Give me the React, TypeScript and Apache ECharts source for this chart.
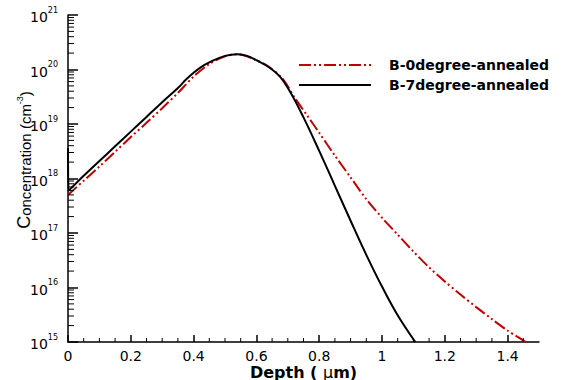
import React, { useEffect, useRef } from 'react';
import * as echarts from 'echarts';

// B-0degree-annealed (red, dash-dot-dot)
const depth0 = [0, 0.05, 0.1, 0.15, 0.2, 0.25, 0.3, 0.35, 0.4, 0.45, 0.5, 0.54, 0.6, 0.64, 0.685, 0.72, 0.76, 0.8, 0.85, 0.9, 0.95, 1.0, 1.05, 1.1, 1.15, 1.2, 1.25, 1.3, 1.35, 1.4, 1.458];
const conc0 = [5.0e17, 9.1e17, 1.66e18, 3.09e18, 5.75e18, 1.05e19, 1.95e19, 3.72e19, 7.41e19, 1.26e20, 1.74e20, 1.91e20, 1.48e20, 1.12e20, 6.61e19, 3.16e19, 1.48e19, 6.9e18, 2.63e18, 1.05e18, 4.17e17, 1.91e17, 9.33e16, 4.57e16, 2.34e16, 1.29e16, 7.41e15, 4.37e15, 2.63e15, 1.62e15, 1.0e15];

// B-7degree-annealed (black, solid)
const depth7 = [0, 0.002, 0.05, 0.1, 0.15, 0.2, 0.25, 0.3, 0.35, 0.375, 0.4, 0.425, 0.45, 0.5, 0.54, 0.57, 0.6, 0.64, 0.675, 0.71, 0.75, 0.8, 0.85, 0.9, 0.95, 1.0, 1.05, 1.106];
const conc7 = [3.63e18, 6.0e17, 1.12e18, 2.09e18, 3.89e18, 7.24e18, 1.35e19, 2.51e19, 4.57e19, 6.46e19, 8.7e19, 1.12e20, 1.35e20, 1.78e20, 1.91e20, 1.78e20, 1.48e20, 1.1e20, 7.41e19, 3.66e19, 1.32e19, 3.21e18, 7.35e17, 1.68e17, 3.98e16, 1.04e16, 3.09e15, 1.0e15];

const xTickValues = [0, 0.2, 0.4, 0.6, 0.8, 1, 1.2, 1.4];
const xMinorTickValues = [0.05, 0.1, 0.15, 0.25, 0.3, 0.35, 0.45, 0.5, 0.55, 0.65, 0.7, 0.75, 0.85, 0.9, 0.95, 1.05, 1.1, 1.15, 1.25, 1.3, 1.35, 1.45];
const yDecadeExponents = [15, 16, 17, 18, 19, 20];
const yMinorMultipliers = [2, 3, 4, 5, 6, 7, 8, 9];

const seriesNames = ['B-0degree-annealed', 'B-7degree-annealed'];

const WIDE = '"DejaVu Sans", Verdana, sans-serif';
const ARIAL = '"Liberation Sans", Arial, sans-serif';

export default function App() {
  const ref = useRef<HTMLDivElement>(null);
  useEffect(() => {
    if (!ref.current) return;
    const chart = echarts.init(ref.current, null, { renderer: 'svg' });

    const yMinor: number[][] = [];
    yDecadeExponents.forEach((e) => {
      yMinorMultipliers.forEach((m) => yMinor.push([0, m * Math.pow(10, e)]));
    });
    const xMinor = xMinorTickValues.map((v) => [v, 1e15]);

    const option: any = {
      animation: false,
      backgroundColor: '#fff',
      grid: { left: 68, right: 24, top: 15, bottom: 38, containLabel: false, outerBoundsMode: 'none' },
      legend: {
        orient: 'vertical',
        left: 298,
        top: 58,
        padding: 0,
        itemWidth: 72,
        itemHeight: 14,
        itemGap: 6,
        data: seriesNames,
        itemStyle: { opacity: 0 },
        textStyle: { fontFamily: WIDE, fontWeight: 'bold', fontSize: 14, color: '#000', padding: [0, 0, 0, 13] },
      },
      xAxis: {
        type: 'value',
        min: 0,
        max: 1.5,
        name: '{b|Depth ( }{m|μ}{b|m)}',
        nameLocation: 'middle',
        nameGap: 22,
        nameMoveOverlap: false,
        nameTextStyle: {
          verticalAlign: 'top',
          lineHeight: 16,
          rich: {
            b: { fontFamily: WIDE, fontWeight: 'bold', fontSize: 16, lineHeight: 16, color: '#000' },
            m: { fontFamily: WIDE, fontSize: 16, lineHeight: 16, color: '#000' },
          },
        },
        axisLine: { show: true, lineStyle: { color: '#000', width: 1.5 } },
        axisTick: { show: true, inside: true, length: 7, customValues: xTickValues, lineStyle: { color: '#000', width: 1.5 } },
        axisLabel: { customValues: xTickValues, margin: 7, fontFamily: WIDE, fontSize: 14, lineHeight: 14, color: '#000' },
        splitLine: { show: false },
      },
      yAxis: {
        type: 'log',
        logBase: 10,
        min: 1e15,
        max: 1e21,
        interval: 1,
        axisLine: { show: true, lineStyle: { color: '#000', width: 1.5 } },
        axisTick: { show: true, inside: true, length: 10, lineStyle: { color: '#000', width: 1.5 } },
        axisLabel: {
          margin: 10,
          formatter: (v: number) => `{b|10}{s|${Math.round(Math.log10(v))}}`,
          rich: {
            b: { fontFamily: WIDE, fontSize: 14, color: '#000', lineHeight: 18, verticalAlign: 'bottom' },
            s: { fontFamily: WIDE, fontSize: 8, color: '#000', lineHeight: 18, verticalAlign: 'top' },
          },
        },
        splitLine: { show: false },
      },
      graphic: [
        {
          type: 'text',
          x: 24,
          y: 160,
          rotation: Math.PI / 2,
          style: {
            text: '{c|C}{a|oncentration (cm}{s|-3}{a|)}',
            align: 'center',
            verticalAlign: 'middle',
            rich: {
              c: { fontFamily: ARIAL, fontSize: 18, fill: '#000', lineHeight: 18, verticalAlign: 'bottom' },
              a: { fontFamily: ARIAL, fontSize: 15, fill: '#000', lineHeight: 18, verticalAlign: 'bottom' },
              s: { fontFamily: ARIAL, fontSize: 9, fill: '#000', lineHeight: 18, verticalAlign: 'top' },
            },
          },
        },
      ],
      series: [
        {
          name: seriesNames[0],
          type: 'line',
          data: depth0.map((d, i) => [d, conc0[i]]),
          showSymbol: false,
          symbol: 'none',
          smooth: 0.3,
          lineStyle: { color: '#c00000', width: 2, type: [12, 3, 2, 3, 2, 3] },
          itemStyle: { color: '#c00000' },
          z: 3,
        },
        {
          name: seriesNames[1],
          type: 'line',
          data: depth7.map((d, i) => [d, conc7[i]]),
          showSymbol: false,
          symbol: 'none',
          smooth: 0.4,
          lineStyle: { color: '#000', width: 2 },
          itemStyle: { color: '#000' },
          z: 4,
        },
        {
          name: 'yMinorTicks',
          type: 'custom',
          silent: true,
          data: yMinor,
          renderItem: (params: any, api: any) => {
            const c = api.coord([api.value(0), api.value(1)]);
            return { type: 'line', shape: { x1: c[0], y1: c[1], x2: c[0] + 6, y2: c[1] }, style: { stroke: '#000', lineWidth: 1 } };
          },
          z: 5,
        },
        {
          name: 'xMinorTicks',
          type: 'custom',
          silent: true,
          data: xMinor,
          renderItem: (params: any, api: any) => {
            const c = api.coord([api.value(0), api.value(1)]);
            return { type: 'line', shape: { x1: c[0], y1: c[1], x2: c[0], y2: c[1] - 4 }, style: { stroke: '#000', lineWidth: 1 } };
          },
          z: 5,
        },
      ],
    };
    chart.setOption(option);
    return () => chart.dispose();
  }, []);
  return <div ref={ref} style={{ position: 'absolute', left: 0, top: 0, width: 563, height: 380 }} />;
}
